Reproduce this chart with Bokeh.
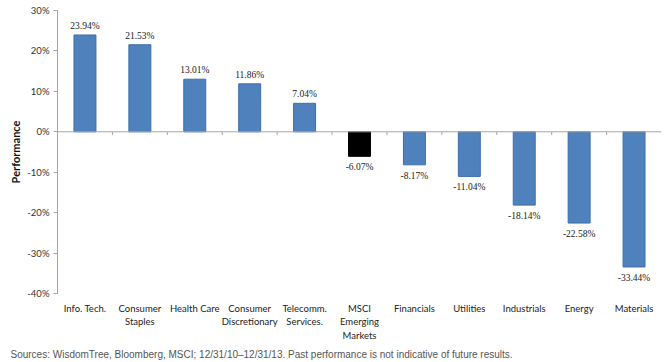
from bokeh.plotting import figure
from bokeh.models import (ColumnDataSource, Range1d, FixedTicker, LinearAxis,
                          Title, LabelSet, CustomJSTickFormatter)
from bokeh.embed import file_html
from bokeh.resources import INLINE

# Sector performance, 12/31/10 - 12/31/13
categories = ["Info. Tech.", "Consumer\nStaples", "Health Care", "Consumer\nDiscretionary",
              "Telecomm.\nServices.", "MSCI\nEmerging\nMarkets", "Financials", "Utilities",
              "Industrials", "Energy", "Materials"]
performance = [23.94, 21.53, 13.01, 11.86, 7.04, -6.07, -8.17, -11.04, -18.14, -22.58, -33.44]
y_ticks = [-40, -30, -20, -10, 0, 10, 20, 30]

BLUE = "#4F81BD"
BLUE_EDGE = "#3E6EA8"
BENCH = "#000000"
FONT = "Lato"

n = len(categories)
xs = [i + 0.5 for i in range(n)]
colors = [BENCH if c.startswith("MSCI") else BLUE for c in categories]
edges = [BENCH if c.startswith("MSCI") else BLUE_EDGE for c in categories]
labels = [f"{v:.2f}%" for v in performance]

src = ColumnDataSource(dict(x=xs, top=performance, color=colors, edge=edges))

p = figure(width=670, height=362, output_backend="svg", toolbar_location=None,
           x_range=Range1d(0, n), y_range=Range1d(y_ticks[0], y_ticks[-1]),
           min_border_left=57, min_border_right=9, min_border_top=10, min_border_bottom=68,
           x_axis_location=None, y_axis_location=None)
p.outline_line_color = None
p.grid.visible = False
p.background_fill_color = "white"
p.border_fill_color = "white"

p.vbar(x="x", top="top", bottom=0, width=0.4, fill_color="color", line_color="edge",
       line_width=1, source=src)

# zero line with category separators
p.segment(x0=[0], y0=[0], x1=[n], y1=[0], line_color="#A6A6A6", line_width=1)
p.segment(x0=list(range(1, n)), y0=[0] * (n - 1), x1=list(range(1, n)), y1=[-0.8] * (n - 1),
          line_color="#A6A6A6", line_width=1)

# value labels
pos = ColumnDataSource(dict(x=[x for x, v in zip(xs, performance) if v >= 0],
                            y=[v for v in performance if v >= 0],
                            t=[l for l, v in zip(labels, performance) if v >= 0]))
neg = ColumnDataSource(dict(x=[x for x, v in zip(xs, performance) if v < 0],
                            y=[v for v in performance if v < 0],
                            t=[l for l, v in zip(labels, performance) if v < 0]))
p.add_layout(LabelSet(x="x", y="y", text="t", source=pos, text_align="center",
                      text_baseline="bottom", y_offset=4, text_font=FONT,
                      text_font_size="9.5px", text_color="#222222"))
p.add_layout(LabelSet(x="x", y="y", text="t", source=neg, text_align="center",
                      text_baseline="top", y_offset=-6, text_font=FONT,
                      text_font_size="9.5px", text_color="#222222"))

# y axis
ya = LinearAxis(ticker=FixedTicker(ticks=y_ticks),
                formatter=CustomJSTickFormatter(code="return tick + '%';"),
                axis_label="Performance")
ya.axis_line_color = "#A6A6A6"
ya.major_tick_line_color = "#A6A6A6"
ya.major_tick_out = 4
ya.major_tick_in = 0
ya.minor_tick_line_color = None
ya.major_label_text_font = FONT
ya.major_label_text_font_size = "9.5px"
ya.major_label_text_color = "#333333"
ya.major_label_standoff = 4
ya.axis_label_text_font = FONT
ya.axis_label_text_font_size = "11px"
ya.axis_label_text_font_style = "bold"
ya.axis_label_text_color = "#111111"
ya.axis_label_standoff = 2
p.add_layout(ya, "left")

# category axis along the bottom
xa = LinearAxis(ticker=FixedTicker(ticks=xs),
                major_label_overrides={x: c for x, c in zip(xs, categories)})
xa.axis_line_color = None
xa.major_tick_line_color = None
xa.minor_tick_line_color = None
xa.major_label_text_font = FONT
xa.major_label_text_font_size = "9.5px"
xa.major_label_text_color = "#222222"
xa.major_label_standoff = 3
xa.major_label_text_line_height = 1.25
p.add_layout(xa, "below")

source_note = Title(text="Sources: WisdomTree, Bloomberg, MSCI; 12/31/10\u201312/31/13. "
                         "Past performance is not indicative of future results.",
                    align="left", offset=-47, standoff=5,
                    text_font="Liberation Sans", text_font_size="10px",
                    text_font_style="normal", text_color="#555555")
p.add_layout(source_note, "below")

open("out.html", "w").write(file_html(p, INLINE))
